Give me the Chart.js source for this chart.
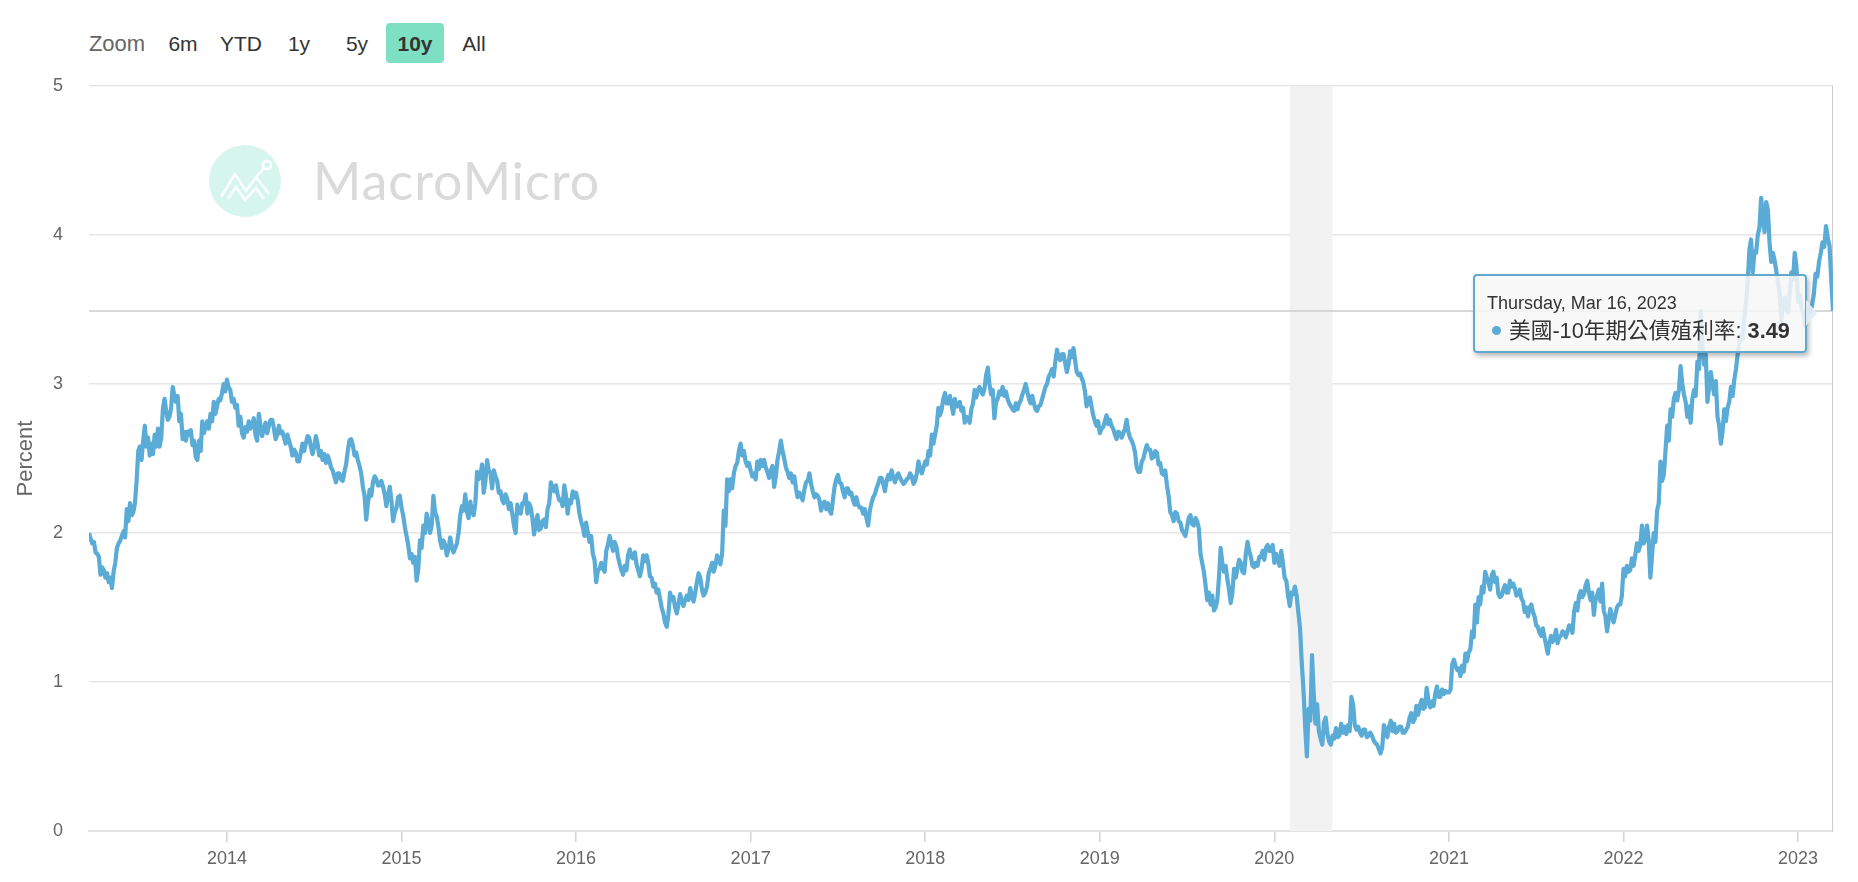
<!DOCTYPE html>
<html>
<head>
<meta charset="utf-8">
<title>美國-10年期公債殖利率</title>
<script src="https://cdn.jsdelivr.net/npm/chart.js@4"></script>
<style>
  html, body { margin: 0; padding: 0; background: #fff; overflow: hidden; }
  body { width: 1858px; height: 882px; position: relative; font-family: "Liberation Sans", "Noto Sans CJK TC", sans-serif; }
  #myChart { position: absolute; left: 0; top: 0; z-index: 2; }
  .rs { position: absolute; top: 23px; height: 40px; line-height: 42px; font-size: 21px; color: #333; text-align: center; }
  .rs.label { color: #666; font-size: 22px; }
  .rs.on { background: #7de0c2; border-radius: 4px; font-weight: bold; }
  #mark { position: absolute; left: 209px; top: 145px; z-index: 1; }
  #markText { position: absolute; left: 313px; top: 149px; z-index: 1; font: 400 52px Lato, "Open Sans", sans-serif; color: #dadada; letter-spacing: 1px; }
  #tip { position: absolute; z-index: 3; box-sizing: border-box; width: 334px; height: 79px; background: rgba(247,247,247,.86);
         border: 2px solid #62a9cf; border-radius: 4px; box-shadow: 2px 3px 5px rgba(0,0,0,.28); color: #333; }
  #tip .t { position: absolute; left: 12px; top: 17px; font-size: 18px; line-height: 20px; white-space: nowrap; }
  #tip .b { position: absolute; left: 34px; top: 42px; font-size: 21.7px; line-height: 26px; white-space: nowrap; }
  #tip .d { position: absolute; left: 17px; top: 50px; width: 9px; height: 9px; border-radius: 50%; background: #5aabd6; }
  #tip .a { position: absolute; left: 331px; top: 24px; width: 0; height: 0; border-top: 13px solid transparent; border-bottom: 13px solid transparent; border-left: 11px solid rgba(225,238,247,.95); }
</style>
</head>
<body>
<div class="rs label" style="left:88px;width:58px">Zoom</div>
<div class="rs" style="left:166px;width:34px">6m</div>
<div class="rs" style="left:218px;width:46px">YTD</div>
<div class="rs" style="left:285px;width:28px">1y</div>
<div class="rs" style="left:343px;width:28px">5y</div>
<div class="rs on" style="left:386px;width:58px">10y</div>
<div class="rs" style="left:460px;width:28px">All</div>

<svg id="mark" width="72" height="72" viewBox="0 0 72 72">
  <circle cx="36" cy="36" r="36" fill="#d6f5ec"/>
  <path d="M12 52 L26 29 L37 46 L47 32 L60 49 M19 54 L27 42 L36 55 L47 43 L55 54" fill="none" stroke="#fff" stroke-width="2.5"/>
  <path d="M47 32 L56 22" fill="none" stroke="#fff" stroke-width="2.5"/>
  <circle cx="58" cy="20" r="4" fill="none" stroke="#fff" stroke-width="2.5"/>
</svg>
<div id="markText">MacroMicro</div>

<canvas id="myChart" width="1858" height="882"></canvas>

<script>
// readings, about two a week, year by year
const y2013 = [2.00,1.96,1.93,1.94,1.87,1.86,1.84,1.72,1.77,1.75,1.70,1.73,1.67,1.70,1.63,1.74,1.80,1.90,1.93,1.95,1.98,2.01,1.97,2.16,2.08,2.20,2.12,2.14,2.20,2.35,2.55,2.58,2.49,2.62,2.72,2.58,2.64,2.52,2.60,2.53,2.66,2.58,2.70,2.58,2.64,2.83,2.90,2.82,2.76,2.78,2.84,2.98,2.92,2.88,2.92,2.75,2.80,2.63,2.68,2.62,2.68,2.66,2.69,2.59,2.62,2.51,2.49,2.62,2.55,2.75,2.67,2.71,2.75,2.70,2.80,2.75,2.88,2.80,2.85,2.90,2.89,2.94,3.00,2.95];
const y2014 = [3.03,2.98,2.96,2.88,2.90,2.84,2.86,2.72,2.78,2.67,2.64,2.71,2.68,2.75,2.70,2.73,2.77,2.66,2.62,2.80,2.72,2.65,2.70,2.74,2.67,2.72,2.76,2.76,2.70,2.63,2.66,2.72,2.67,2.68,2.64,2.60,2.66,2.62,2.58,2.52,2.56,2.54,2.48,2.48,2.54,2.60,2.55,2.60,2.65,2.64,2.58,2.53,2.58,2.65,2.60,2.52,2.55,2.49,2.53,2.47,2.52,2.49,2.44,2.42,2.38,2.34,2.40,2.40,2.36,2.35,2.41,2.46,2.55,2.62,2.63,2.59,2.52,2.54,2.49,2.45,2.40,2.31,2.25,2.09,2.20,2.29,2.25,2.34,2.38,2.36,2.32,2.32,2.35,2.31,2.26,2.18,2.25,2.31,2.22,2.08,2.14,2.17,2.24,2.25];
const y2015 = [2.17,2.12,2.04,1.98,1.92,1.83,1.86,1.80,1.84,1.68,1.76,1.95,1.90,2.05,2.00,2.13,2.08,2.00,2.05,2.25,2.14,2.11,2.04,1.95,1.90,1.95,1.92,1.85,1.89,1.97,1.91,1.87,1.90,1.93,2.00,2.12,2.18,2.15,2.26,2.14,2.10,2.21,2.14,2.12,2.20,2.41,2.36,2.39,2.46,2.27,2.35,2.49,2.42,2.40,2.30,2.42,2.38,2.35,2.27,2.28,2.22,2.20,2.26,2.23,2.16,2.20,2.13,2.05,2.00,2.19,2.14,2.13,2.20,2.20,2.26,2.13,2.20,2.17,2.10,1.99,2.06,2.12,2.02,2.03,2.08,2.09,2.04,2.16,2.20,2.34,2.30,2.28,2.32,2.26,2.22,2.22,2.18,2.32,2.25,2.13,2.22,2.20,2.28,2.24];
const y2016 = [2.27,2.22,2.13,2.08,2.04,1.98,2.07,2.00,1.94,1.98,1.86,1.82,1.67,1.75,1.76,1.80,1.76,1.74,1.88,1.92,1.98,1.93,1.88,1.94,1.91,1.84,1.79,1.75,1.72,1.78,1.75,1.85,1.89,1.84,1.83,1.87,1.79,1.75,1.71,1.76,1.85,1.81,1.85,1.80,1.71,1.70,1.64,1.66,1.60,1.62,1.56,1.50,1.46,1.40,1.37,1.45,1.60,1.55,1.57,1.50,1.46,1.52,1.59,1.54,1.51,1.55,1.58,1.55,1.63,1.58,1.54,1.60,1.67,1.73,1.70,1.62,1.58,1.60,1.64,1.73,1.76,1.80,1.74,1.78,1.85,1.82,1.79,1.86,2.15,2.05,2.36,2.28,2.36,2.30,2.40,2.45,2.47,2.55,2.60,2.52,2.55,2.48,2.45,2.47];
const y2017 = [2.42,2.38,2.40,2.36,2.48,2.43,2.49,2.45,2.49,2.44,2.41,2.37,2.42,2.45,2.31,2.38,2.49,2.55,2.62,2.55,2.50,2.44,2.41,2.37,2.40,2.34,2.38,2.30,2.24,2.27,2.25,2.22,2.29,2.34,2.35,2.40,2.33,2.28,2.24,2.26,2.25,2.22,2.15,2.20,2.21,2.16,2.20,2.15,2.13,2.22,2.31,2.36,2.39,2.34,2.33,2.28,2.24,2.30,2.30,2.26,2.27,2.22,2.19,2.24,2.19,2.17,2.17,2.13,2.16,2.10,2.05,2.15,2.20,2.24,2.26,2.30,2.33,2.37,2.37,2.33,2.28,2.35,2.39,2.36,2.42,2.37,2.34,2.38,2.40,2.37,2.35,2.33,2.34,2.36,2.37,2.40,2.38,2.33,2.35,2.40,2.48,2.43,2.40,2.44];
const y2018 = [2.48,2.46,2.55,2.52,2.66,2.60,2.66,2.72,2.84,2.79,2.83,2.90,2.94,2.87,2.87,2.92,2.86,2.80,2.90,2.85,2.85,2.88,2.82,2.84,2.74,2.78,2.77,2.74,2.83,2.87,2.96,2.91,2.96,2.98,2.95,2.93,2.97,3.06,3.11,3.00,2.93,2.96,2.77,2.88,2.90,2.95,2.93,2.98,2.92,2.95,2.90,2.87,2.85,2.83,2.82,2.87,2.83,2.87,2.89,2.93,2.96,3.00,2.95,2.90,2.87,2.92,2.87,2.83,2.82,2.85,2.86,2.90,2.94,2.98,3.00,3.05,3.07,3.10,3.05,3.15,3.23,3.18,3.16,3.20,3.20,3.14,3.08,3.13,3.22,3.18,3.24,3.16,3.08,3.06,3.07,3.04,3.01,2.95,2.85,2.88,2.91,2.85,2.79,2.75,2.72,2.75];
const y2019 = [2.67,2.70,2.71,2.75,2.79,2.73,2.76,2.72,2.70,2.66,2.63,2.68,2.67,2.64,2.67,2.70,2.76,2.68,2.64,2.62,2.59,2.54,2.44,2.41,2.41,2.48,2.50,2.55,2.59,2.56,2.56,2.50,2.51,2.55,2.54,2.46,2.47,2.40,2.39,2.42,2.32,2.25,2.14,2.12,2.08,2.14,2.13,2.08,2.07,2.02,2.00,1.98,2.04,2.10,2.12,2.06,2.05,2.10,2.08,2.03,1.86,1.80,1.74,1.65,1.55,1.60,1.52,1.58,1.48,1.50,1.55,1.70,1.90,1.80,1.74,1.78,1.69,1.62,1.53,1.60,1.76,1.70,1.76,1.82,1.80,1.74,1.73,1.86,1.94,1.88,1.84,1.78,1.77,1.80,1.78,1.84,1.84,1.88,1.82,1.90,1.92,1.88,1.88,1.92];
const y2020 = [1.80,1.86,1.82,1.78,1.88,1.80,1.70,1.68,1.58,1.51,1.60,1.59,1.64,1.58,1.47,1.36,1.13,0.95,0.70,0.50,0.82,0.74,1.18,0.92,0.72,0.85,0.67,0.62,0.58,0.73,0.76,0.65,0.60,0.58,0.64,0.62,0.69,0.63,0.64,0.72,0.66,0.70,0.65,0.71,0.67,0.90,0.85,0.71,0.68,0.70,0.66,0.64,0.68,0.68,0.63,0.64,0.66,0.64,0.61,0.59,0.58,0.55,0.52,0.56,0.71,0.68,0.63,0.70,0.74,0.67,0.72,0.66,0.67,0.70,0.70,0.66,0.66,0.68,0.70,0.76,0.79,0.73,0.75,0.84,0.78,0.84,0.88,0.82,0.83,0.96,0.88,0.83,0.87,0.84,0.92,0.97,0.90,0.90,0.95,0.92,0.94,0.93];
const y2021 = [0.93,0.95,1.12,1.15,1.11,1.08,1.09,1.04,1.11,1.07,1.19,1.14,1.20,1.22,1.34,1.30,1.52,1.40,1.57,1.52,1.64,1.60,1.74,1.70,1.67,1.62,1.72,1.74,1.67,1.70,1.59,1.57,1.58,1.62,1.65,1.60,1.60,1.68,1.64,1.66,1.63,1.58,1.59,1.62,1.56,1.54,1.47,1.50,1.44,1.50,1.52,1.47,1.44,1.38,1.37,1.33,1.31,1.36,1.30,1.25,1.19,1.26,1.31,1.27,1.29,1.35,1.26,1.30,1.31,1.34,1.33,1.30,1.34,1.38,1.37,1.33,1.47,1.53,1.48,1.58,1.61,1.57,1.59,1.65,1.68,1.60,1.55,1.60,1.45,1.55,1.58,1.62,1.54,1.66,1.48,1.44,1.34,1.42,1.49,1.44,1.40,1.45,1.50,1.52,1.52,1.58];
const y2022 = [1.76,1.71,1.78,1.74,1.75,1.83,1.78,1.85,1.93,1.88,1.92,2.05,1.93,1.96,2.05,1.95,1.70,1.85,2.00,1.94,2.15,2.20,2.48,2.35,2.39,2.55,2.72,2.62,2.83,2.78,2.90,2.94,2.89,2.96,3.12,3.00,2.93,2.88,2.78,2.85,2.74,2.90,2.96,2.92,3.15,3.10,3.49,3.25,3.13,3.20,2.88,2.98,3.08,3.00,2.93,3.02,2.78,2.72,2.60,2.68,2.83,2.75,2.84,2.88,2.98,2.92,3.03,3.10,3.20,3.28,3.33,3.30,3.45,3.55,3.69,3.90,3.97,3.75,3.89,3.88,4.00,4.05,4.25,4.12,4.02,4.22,4.17,3.95,3.82,3.88,3.83,3.76,3.68,3.62,3.42,3.55,3.58,3.50,3.48,3.60,3.75,3.70,3.88,3.79];
const y2023 = [3.55,3.60,3.51,3.48,3.39,3.45,3.52,3.48,3.53,3.60,3.74,3.72,3.82,3.88,3.95,3.92,4.06,3.98,3.93,3.70,3.49];

const yearLists = [y2013, y2014, y2015, y2016, y2017, y2018, y2019, y2020, y2021, y2022, y2023];
const firstYear = 2013;
const xMin = 2013.21, xMax = 2023.2;
const yearTicks = [2014, 2015, 2016, 2017, 2018, 2019, 2020, 2021, 2022, 2023];
const recession = [2020.088, 2020.333];
const hoverValue = 3.49;
const hoverDate = "Thursday, Mar 16, 2023";
const seriesName = "美國-10年期公債殖利率";

var points = [];
yearLists.forEach(function (vals, k) {
  var from = k == 0 ? xMin : firstYear + k;
  var to = k == yearLists.length - 1 ? xMax : firstYear + k + 1;
  vals.forEach(function (v, i) {
    var step = k == yearLists.length - 1 ? (to - from) / (vals.length - 1) : (to - from) / vals.length;
    points.push({ x: from + i * step, y: v });
  });
});

const bandPlugin = {
  id: "band",
  beforeDatasetsDraw(chart) {
    var a = chart.chartArea, ctx = chart.ctx, x = chart.scales.x;
    var l = x.getPixelForValue(recession[0]), r = x.getPixelForValue(recession[1]);
    ctx.save();
    ctx.fillStyle = "#f2f2f2";
    ctx.fillRect(l, a.top, r - l, a.bottom - a.top);
    ctx.restore();
  },
};

function showTip(context) {
  var m = context.tooltip;
  var old = document.getElementById("tip");
  if (old) old.remove();
  if (!m.dataPoints || !m.dataPoints.length) return;
  var d = document.createElement("div");
  d.id = "tip";
  d.style.left = (m.caretX - 360) + "px";
  d.style.top = (m.caretY - 37) + "px";
  d.innerHTML = '<div class="t">' + m.title[0] + '</div><div class="d"></div>' +
    '<div class="b">' + seriesName + ': <b>' + hoverValue.toFixed(2) + '</b></div><div class="a"></div>';
  document.body.appendChild(d);
}

Chart.defaults.font.family = '"Liberation Sans", "Noto Sans CJK TC", sans-serif';

const myChart = new Chart(document.getElementById("myChart"), {
  type: "line",
  plugins: [bandPlugin],
  data: {
    datasets: [
      { label: seriesName, data: points, borderColor: "#5aabd6", borderWidth: 4.2, pointRadius: 0, tension: 0, borderJoinStyle: "round", order: 1 },
      { label: "h", data: [{ x: xMin, y: hoverValue }, { x: xMax, y: hoverValue }], borderColor: "#cccccc", borderWidth: 1.5, pointRadius: 0, order: 2 },
      { label: "v", data: [{ x: xMax, y: 0 }, { x: xMax, y: 5 }], borderColor: "#cccccc", borderWidth: 2, pointRadius: 0, order: 2 },
    ],
  },
  options: {
    responsive: false,
    animation: false,
    events: [],
    layout: { padding: { top: 86, right: 25 } },
    plugins: {
      legend: { display: false },
      tooltip: {
        enabled: false,
        external: showTip,
        filter: (item) => item.datasetIndex == 0,
        callbacks: { title: () => hoverDate },
      },
    },
    scales: {
      x: {
        type: "linear",
        min: xMin,
        max: xMax,
        afterFit(s) { s.height = 51; },
        afterBuildTicks(s) { s.ticks = yearTicks.map((v) => ({ value: v })); },
        grid: { drawOnChartArea: false, color: "#d4d4d4", lineWidth: 1.5, tickLength: 11 },
        border: { color: "#e2e2e2", width: 2 },
        ticks: { color: "#666", font: { size: 18 }, padding: 6, maxRotation: 0, callback: (v) => String(v) },
      },
      y: {
        min: 0,
        max: 5,
        afterFit(s) { s.width = 89; },
        grid: { color: "#e6e6e6", lineWidth: 1.5, drawTicks: false },
        border: { display: false },
        ticks: { color: "#666", font: { size: 18 }, stepSize: 1, padding: 26 },
        title: { display: true, text: "Percent", color: "#666", font: { size: 22 }, padding: { top: 13, bottom: 0 } },
      },
    },
  },
});

myChart.tooltip.setActiveElements([{ datasetIndex: 0, index: points.length - 1 }], { x: 1833, y: 310 });
myChart.update();
</script>
</body>
</html>
